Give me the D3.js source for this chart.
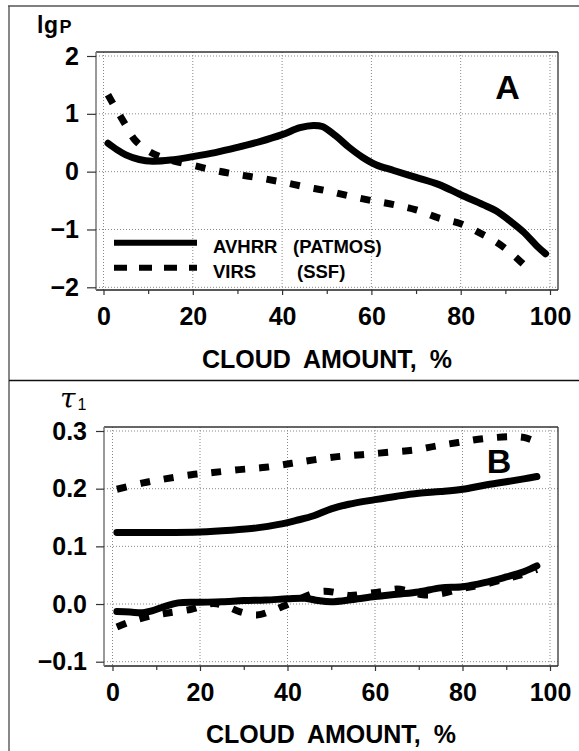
<!DOCTYPE html>
<html><head><meta charset="utf-8">
<script src="https://cdn.jsdelivr.net/npm/d3@7"></script>
<style>
html,body{margin:0;padding:0;background:#fff;}
svg{display:block;font-family:"Liberation Sans",Arial,sans-serif;}
</style></head>
<body>
<svg id="c" width="579" height="751"></svg>
<script>
// ---- Data ----
const xTicks = [0, 20, 40, 60, 80, 100];
const xMinorTicks = [10, 30, 50, 70, 90];
const yTicksA = [-2, -1, 0, 1, 2];
const yTicksB = [-0.1, 0.0, 0.1, 0.2, 0.3];
const xTitle = "CLOUD AMOUNT, %";
const seriesNames = ["AVHRR", "VIRS"];
const seriesSources = ["(PATMOS)", "(SSF)"];

// Panel A: lg P vs cloud amount
const avhrrA_x = [1, 3, 5, 8, 11, 15, 20, 25, 30, 35, 40, 44, 47, 49, 52, 55, 58, 61, 65, 70, 75, 80, 85, 88, 91, 94, 97, 99];
const avhrrA_y = [0.49, 0.38, 0.29, 0.21, 0.18, 0.20, 0.26, 0.33, 0.42, 0.52, 0.64, 0.76, 0.80, 0.78, 0.62, 0.42, 0.25, 0.12, 0.02, -0.10, -0.22, -0.40, -0.57, -0.68, -0.85, -1.04, -1.28, -1.42];
const virsA_x = [1, 3, 5, 7, 10, 13, 16, 20, 25, 30, 35, 40, 45, 50, 55, 60, 65, 70, 75, 80, 85, 88, 91, 94, 96];
const virsA_y = [1.33, 1.06, 0.80, 0.55, 0.36, 0.25, 0.18, 0.11, 0.02, -0.05, -0.11, -0.18, -0.26, -0.33, -0.42, -0.50, -0.57, -0.66, -0.80, -0.90, -1.09, -1.22, -1.39, -1.60, -1.75];

// Panel B: tau1 vs cloud amount (upper and lower pairs)
const avhrrBup_x = [1, 10, 20, 27, 33, 38, 42, 46, 50, 54, 60, 65, 70, 75, 80, 85, 90, 94, 97];
const avhrrBup_y = [0.124, 0.124, 0.125, 0.128, 0.132, 0.138, 0.145, 0.153, 0.165, 0.173, 0.181, 0.187, 0.192, 0.195, 0.199, 0.206, 0.212, 0.217, 0.221];
const virsBup_x = [1, 7, 12, 18, 23, 29, 35, 41, 46, 52, 57, 63, 69, 74, 79, 85, 91, 94, 97];
const virsBup_y = [0.199, 0.210, 0.217, 0.224, 0.228, 0.233, 0.237, 0.244, 0.250, 0.256, 0.259, 0.263, 0.267, 0.274, 0.280, 0.287, 0.290, 0.289, 0.281];
const avhrrBlo_x = [1, 4, 7, 9, 12, 15, 20, 25, 30, 35, 40, 44, 47, 50, 55, 60, 65, 70, 75, 80, 85, 90, 94, 97];
const avhrrBlo_y = [-0.013, -0.014, -0.015, -0.012, -0.004, 0.002, 0.003, 0.004, 0.006, 0.007, 0.009, 0.010, 0.006, 0.004, 0.008, 0.013, 0.017, 0.021, 0.028, 0.030, 0.037, 0.047, 0.056, 0.066];
const virsBlo_x = [1, 4, 7, 10, 13, 18, 23, 26, 29, 33, 36, 39, 42, 45, 48, 51, 54, 58, 62, 65, 68, 71, 75, 80, 85, 90, 94, 97];
const virsBlo_y = [-0.040, -0.031, -0.024, -0.019, -0.015, -0.009, 0.001, -0.004, -0.013, -0.019, -0.013, -0.004, 0.006, 0.016, 0.022, 0.020, 0.015, 0.018, 0.022, 0.026, 0.022, 0.016, 0.018, 0.027, 0.034, 0.044, 0.052, 0.060];

const zip = (xs, ys) => xs.map((x, i) => [x, ys[i]]);

// ---- Drawing ----
const svg = d3.select("#c");
const FONT = "'Liberation Sans',Arial,sans-serif";

// outer frame
svg.append("line").attr("x1", 9).attr("x2", 9).attr("y1", 6).attr("y2", 751).attr("stroke", "#888").attr("stroke-width", 2);
svg.append("line").attr("x1", 8).attr("x2", 579).attr("y1", 6).attr("y2", 6).attr("stroke", "#555").attr("stroke-width", 1.5);
svg.append("line").attr("x1", 9).attr("x2", 579).attr("y1", 380.5).attr("y2", 380.5).attr("stroke", "#111").attr("stroke-width", 1.6);

function panel(cfg) {
  const g = svg.append("g");
  const x = d3.scaleLinear().domain([0, 100]).range(cfg.xr);
  const y = d3.scaleLinear().domain(cfg.yd).range(cfg.yr);
  const { L, T, R, B } = cfg.box;

  // grid
  g.append("g").selectAll("line").data(xTicks).join("line")
    .attr("x1", d => x(d)).attr("x2", d => x(d)).attr("y1", T).attr("y2", B)
    .attr("stroke", "#888").attr("stroke-width", 1).attr("stroke-dasharray", "1,2");
  g.append("g").selectAll("line").data(cfg.yTicks).join("line")
    .attr("x1", L).attr("x2", R).attr("y1", d => y(d)).attr("y2", d => y(d))
    .attr("stroke", "#888").attr("stroke-width", 1).attr("stroke-dasharray", "1,2");

  // frame
  g.append("line").attr("x1", L).attr("x2", R).attr("y1", T).attr("y2", T).attr("stroke", "#333").attr("stroke-width", 1.3);
  g.append("line").attr("x1", R).attr("x2", R).attr("y1", T).attr("y2", B).attr("stroke", "#333").attr("stroke-width", 1.3);
  g.append("line").attr("x1", L).attr("x2", R).attr("y1", B).attr("y2", B).attr("stroke", "#222").attr("stroke-width", 1.5);
  g.append("line").attr("x1", L).attr("x2", L).attr("y1", T).attr("y2", B).attr("stroke", "#777").attr("stroke-width", 1.5);

  // axes
  const xa = g.append("g").attr("transform", `translate(0,${B})`)
    .call(d3.axisBottom(x).tickValues(xTicks).tickSize(5).tickPadding(12).tickFormat(d3.format("d")));
  const xm = g.append("g").attr("transform", `translate(0,${B})`)
    .call(d3.axisBottom(x).tickValues(xMinorTicks).tickSize(4).tickFormat(""));
  const ya = g.append("g").attr("transform", `translate(${L},0)`)
    .call(d3.axisLeft(y).tickValues(cfg.yTicks).tickSize(cfg.yTickLen).tickPadding(cfg.yPad).tickFormat(cfg.yFmt));
  [xa, xm, ya].forEach(a => {
    a.select(".domain").remove();
    a.selectAll(".tick line").attr("stroke", "#333").attr("stroke-width", 1.2);
    a.selectAll("text").attr("font-family", FONT).attr("font-weight", "bold").attr("font-size", 25).attr("fill", "#000");
  });

  // curves
  const line = d3.line().x(d => x(d[0])).y(d => y(d[1])).curve(d3.curveCatmullRom.alpha(0.5));
  cfg.series.forEach(s => {
    g.append("path").datum(s.data).attr("d", line).attr("fill", "none")
      .attr("stroke", "#000").attr("stroke-width", 7)
      .attr("stroke-linecap", s.dashed ? "butt" : "round").attr("stroke-linejoin", "round")
      .attr("stroke-dasharray", s.dashed ? "10,14" : null);
  });

  // x title
  g.append("text").attr("x", (L + R) / 2).attr("y", cfg.titleY).attr("text-anchor", "middle")
    .attr("font-family", FONT).attr("font-weight", "bold").attr("font-size", 25)
    .attr("word-spacing", 6).text(xTitle);

  // panel letter
  g.append("text").attr("x", cfg.letterX).attr("y", cfg.letterY).attr("text-anchor", "middle")
    .attr("font-family", FONT).attr("font-weight", "bold").attr("font-size", 34).text(cfg.letter);
  return { g, x, y };
}

const fmtA = d => d < 0 ? "\u2212" + Math.abs(d) : String(d);
const fmtB = d => d < 0 ? "\u2212" + d3.format(".1f")(Math.abs(d)) : d3.format(".1f")(d);

const A = panel({
  xr: [103.5, 550], yd: [-2, 2], yr: [287.3, 56],
  box: { L: 96, T: 52, R: 558, B: 290 },
  yTicks: yTicksA, yTickLen: 9, yPad: 8, yFmt: fmtA,
  titleY: 368, letter: "A", letterX: 507.5, letterY: 99,
  series: [
    { data: zip(virsA_x, virsA_y), dashed: true },
    { data: zip(avhrrA_x, avhrrA_y), dashed: false }
  ]
});

const Bp = panel({
  xr: [112.5, 550], yd: [-0.1, 0.3], yr: [661.7, 431],
  box: { L: 104, T: 427, R: 558, B: 666 },
  yTicks: yTicksB, yTickLen: 8, yPad: 9, yFmt: fmtB,
  titleY: 743, letter: "B", letterX: 499, letterY: 473,
  series: [
    { data: zip(virsBup_x, virsBup_y), dashed: true },
    { data: zip(virsBlo_x, virsBlo_y), dashed: true },
    { data: zip(avhrrBup_x, avhrrBup_y), dashed: false },
    { data: zip(avhrrBlo_x, avhrrBlo_y), dashed: false }
  ]
});

// legend in panel A
const leg = A.g.append("g");
[0, 1].forEach(i => {
  const ly = 242.7 + i * 25;
  leg.append("line").attr("x1", 114).attr("x2", 197).attr("y1", ly).attr("y2", ly)
    .attr("stroke", "#000").attr("stroke-width", 6)
    .attr("stroke-dasharray", i === 1 ? "13,12" : null);
  leg.append("text").attr("x", 213).attr("y", ly + 10).attr("font-family", FONT)
    .attr("font-weight", "bold").attr("font-size", 18.5).text(seriesNames[i]);
  leg.append("text").attr("x", i === 0 ? 293 : 297).attr("y", ly + 10).attr("font-family", FONT)
    .attr("font-weight", "bold").attr("font-size", 18.5).text(seriesSources[i]);
});

// y-axis labels
const yl = svg.append("text").attr("x", 37).attr("y", 33).attr("font-family", FONT).attr("font-weight", "bold");
yl.append("tspan").attr("font-size", 23).attr("letter-spacing", 0.5).text("lg");
yl.append("tspan").attr("font-size", 18).attr("dx", 1).text("P");

const tl = svg.append("text").attr("x", 60).attr("y", 408);
tl.append("tspan").attr("font-family", "'DejaVu Serif',serif").attr("font-style", "italic").attr("font-size", 28).text("\u03C4");
tl.append("tspan").attr("font-family", FONT).attr("font-size", 16).attr("dx", 2).attr("dy", 2).text("1");
</script>
</body></html>
